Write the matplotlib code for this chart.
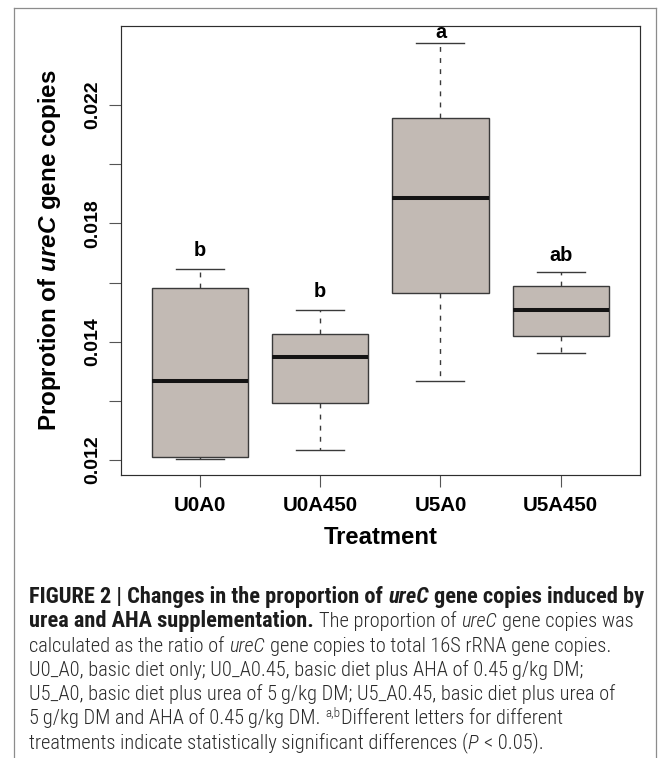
import numpy as np
import matplotlib
matplotlib.use("Agg")
import matplotlib.pyplot as plt
from matplotlib import font_manager
from matplotlib.lines import Line2D

# ---- data -----------------------------------------------------------------
treatments = ["U0A0", "U0A450", "U5A0", "U5A450"]
whisker_low = [0.01202, 0.01217, 0.01334, 0.01381]
q1 = [0.01205, 0.01296, 0.01566, 0.01420]
median = [0.01334, 0.01374, 0.01885, 0.01508]
q3 = [0.01582, 0.01427, 0.02157, 0.01588]
whisker_high = [0.01647, 0.01508, 0.02411, 0.01636]
letters = ["b", "b", "a", "ab"]

ytick_values = [0.012, 0.013, 0.014, 0.016, 0.018, 0.020, 0.022]
ytick_labels = ["0.012", "", "0.014", "", "0.018", "", "0.022"]

# ---- fonts ----------------------------------------------------------------
available = {f.name for f in font_manager.fontManager.ttflist}
MAIN = "Liberation Sans" if "Liberation Sans" in available else "DejaVu Sans"
NARROW = MAIN
for cand in ["Liberation Sans Narrow", "Roboto Condensed", "Open Sans Condensed"]:
    if cand in available:
        NARROW = cand
        break
if NARROW != MAIN:
    BOLD_SIZE, REG_SIZE = 16.1, 14.7
else:
    BOLD_SIZE, REG_SIZE = 13.4, 13.0

plt.rcParams["font.family"] = [MAIN, "DejaVu Sans"]
plt.rcParams["mathtext.fontset"] = "custom"
plt.rcParams["mathtext.bfit"] = f"{MAIN}:bold:italic"
plt.rcParams["mathtext.bf"] = f"{MAIN}:bold"
plt.rcParams["mathtext.rm"] = MAIN

W, H = 669, 758
fig = plt.figure(figsize=(W / 100, H / 100), dpi=100)
fig.patch.set_facecolor("white")

# axes rectangle (pixels: left 121, right 640, top 26, bottom 475)
ax = fig.add_axes([120.7 / W, 1 - 475 / H, (640 - 120.7) / W, (475 - 26) / H])

# the y axis places the listed tick values at equal spacing
knot_v = np.array([0.010] + ytick_values + [0.026])
knot_p = np.array([-2.0] + list(range(len(ytick_values))) + [len(ytick_values) + 1.0])


def fwd(v):
    return np.interp(v, knot_v, knot_p)


def inv(p):
    return np.interp(p, knot_p, knot_v)


ax.set_yscale("function", functions=(fwd, inv))

stats = []
for i, name in enumerate(treatments):
    stats.append(dict(label=name, med=median[i], q1=q1[i], q3=q3[i],
                      whislo=whisker_low[i], whishi=whisker_high[i], fliers=[]))

edge = "#3a3a3a"
ax.bxp(stats, positions=np.arange(1, len(treatments) + 1), widths=0.8,
       patch_artist=True, showfliers=False,
       boxprops=dict(facecolor="#c2bab4", edgecolor=edge, linewidth=1.0),
       medianprops=dict(color="#141414", linewidth=2.9, solid_capstyle="butt"),
       whiskerprops=dict(color=edge, linewidth=1.0, linestyle=(0, (3.5, 4.5))),
       capprops=dict(color=edge, linewidth=1.0))

ax.set_xlim(0.34, 4.66)
ax.set_ylim(0.011747, 0.02467)

ax.set_yticks(ytick_values)
ax.set_yticklabels(ytick_labels, rotation=90, va="center", ha="right",
                   fontweight="bold", fontsize=14.0)
ax.set_xticks(np.arange(1, len(treatments) + 1))
ax.set_xticklabels(treatments, fontweight="bold", fontsize=14.8)
ax.tick_params(axis="both", length=8.6, width=0.8, color="#555555")
ax.tick_params(axis="y", pad=5.5)
ax.tick_params(axis="x", pad=6.3)
ax.minorticks_off()

for s in ax.spines.values():
    s.set_color("#2e2e2e")
    s.set_linewidth(0.85)

ax.set_ylabel(r"Proprotion of $\mathbfit{ureC}$ gene copies", fontsize=17.4,
              fontweight="bold", va="center")
ax.yaxis.set_label_coords((50 - 120.7) / (640 - 120.7), 0.5)
ax.set_xlabel("Treatment", fontsize=17.2, fontweight="bold", va="center")
ax.xaxis.set_label_coords(0.5, (475 - 537) / (475 - 26))

# significance letters above the upper whiskers (offsets in points)
letter_offsets = [13.0, 12.8, 7.3, 11.5]
for i, (lab, off) in enumerate(zip(letters, letter_offsets)):
    ax.annotate(lab, xy=(i + 1, whisker_high[i]), xytext=(0, off),
                textcoords="offset points", ha="center", va="center",
                fontsize=14.3, fontweight="bold", color="black",
                annotation_clip=False)

# ---- frame around the figure and caption ---------------------------------
frame_kw = dict(color="#8c8c8c", linewidth=0.9, transform=fig.transFigure)
fx0, fx1, fy0 = 14 / W, 656 / W, 1 - 8.3 / H
fig.add_artist(Line2D([fx0, fx0], [0, fy0], **frame_kw))
fig.add_artist(Line2D([fx1, fx1], [0, fy0], **frame_kw))
fig.add_artist(Line2D([fx0, fx1], [fy0, fy0], **frame_kw))

caption = [
    [("FIGURE 2 | Changes in the proportion of", "b", 0), ("ureC", "bi", 1),
     ("gene copies induced by", "b", 1)],
    [("urea and AHA supplementation.", "b", 0), ("The proportion of", "r", 1),
     ("ureC", "i", 1), ("gene copies was", "r", 1)],
    [("calculated as the ratio of", "r", 0), ("ureC", "i", 1),
     ("gene copies to total 16S rRNA gene copies.", "r", 1)],
    [("U0_A0, basic diet only; U0_A0.45, basic diet plus AHA of 0.45\u2009g/kg DM;", "r", 0)],
    [("U5_A0, basic diet plus urea of 5\u2009g/kg DM; U5_A0.45, basic diet plus urea of", "r", 0)],
    [("5\u2009g/kg DM and AHA of 0.45\u2009g/kg DM.", "r", 0), ("a,b", "sup", 1),
     ("Different letters for different", "r", 0)],
    [("treatments indicate statistically significant differences (", "r", 0),
     ("P", "i", 0), ("< 0.05).", "r", 1)],
]
styles = {
    "b": dict(fontweight="bold", fontstyle="normal", color="#1c1c1c", size=BOLD_SIZE),
    "bi": dict(fontweight="bold", fontstyle="italic", color="#1c1c1c", size=BOLD_SIZE),
    "r": dict(fontweight="light", fontstyle="normal", color="#2a2a2a", size=REG_SIZE),
    "i": dict(fontweight="light", fontstyle="italic", color="#2a2a2a", size=REG_SIZE),
    "sup": dict(fontweight="light", fontstyle="normal", color="#2a2a2a",
                size=REG_SIZE * 0.64),
}
renderer = fig.canvas.get_renderer()
space_px = 0.25 * REG_SIZE * 100 / 72
x_left = 29.0
base0, step = 603.0, 24.3
for row, pieces in enumerate(caption):
    y = base0 + row * step
    x = x_left
    for text, st, gap in pieces:
        x += gap * space_px
        kw = dict(styles[st])
        lift = 0.0
        if st == "sup":
            lift = 0.42 * REG_SIZE * 100 / 72
        t = fig.text(x / W, 1 - (y - lift) / H, text, ha="left", va="baseline",
                     family=[NARROW, "DejaVu Sans"], **kw)
        x += t.get_window_extent(renderer).width

fig.savefig("out.png", dpi=100, facecolor="white")
